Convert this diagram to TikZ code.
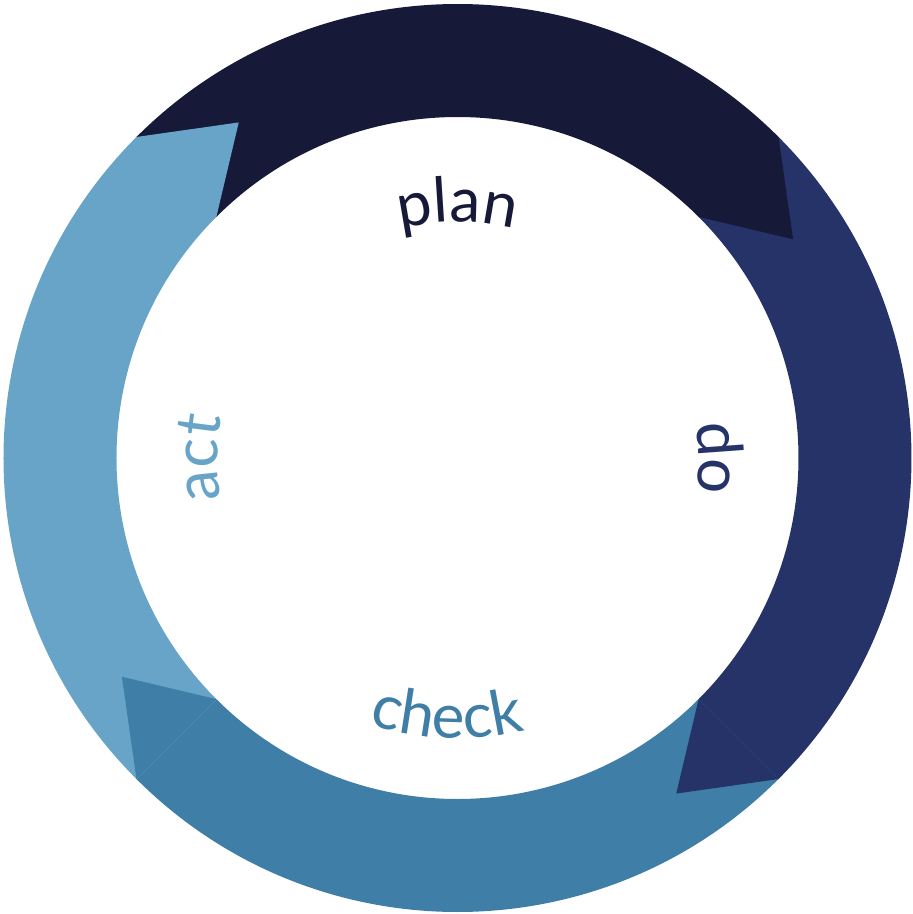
\documentclass[tikz,border=0pt]{standalone}
\usepackage{fontspec}
\setmainfont{Lato}
\usetikzlibrary{decorations.text}
\definecolor{cplan}{HTML}{161A38}
\definecolor{cdo}{HTML}{263369}
\definecolor{ccheck}{HTML}{3F7EA6}
\definecolor{cact}{HTML}{67A4C8}
\newcommand\pdcafont{\fontsize{62}{62}\selectfont}
\tikzset{
  band/.style={fill=#1,draw=none},
  lbl/.style 2 args={decorate,decoration={text along path,text align=center,text color=#1,text={|\pdcafont|#2}}}
}
\begin{document}
\begin{tikzpicture}[x=1pt,y=1pt]
\useasboundingbox (-457.5,-456) rectangle (455.5,458);
\def\Ro{454}
\def\Ri{341}
\def\Rt{400.6}
\coordinate (O) at (0,0);
% bands
\path[band=cplan] (135:\Ro) arc[start angle=135,end angle=45,radius=\Ro] -- (45:\Ri) arc[start angle=45,end angle=135,radius=\Ri] -- cycle;
\path[band=cdo] (45:\Ro) arc[start angle=45,end angle=-45,radius=\Ro] -- (-45:\Ri) arc[start angle=-45,end angle=45,radius=\Ri] -- cycle;
\path[band=ccheck] (-45:\Ro) arc[start angle=-45,end angle=-135,radius=\Ro] -- (-135:\Ri) arc[start angle=-135,end angle=-45,radius=\Ri] -- cycle;
\path[band=cact] (-135:\Ro) arc[start angle=-135,end angle=-225,radius=\Ro] -- (135:\Ri) arc[start angle=135,end angle=225,radius=\Ri] -- cycle;
% arrow heads
\path[band=cplan] (45:\Ro) -- (33.1:\Rt) -- (45:\Ri) -- cycle;
\path[band=cdo] (-45:\Ro) -- (-56.9:\Rt) -- (-45:\Ri) -- cycle;
\path[band=ccheck] (-135:\Ro) -- (-146.9:\Rt) -- (-135:\Ri) -- cycle;
\path[band=cact] (135:\Ro) -- (123.1:\Rt) -- (135:\Ri) -- cycle;
% labels
\path[lbl={cplan}{plan}] (120:236) arc[start angle=120,end angle=60,radius=236];
\path[lbl={cdo}{do}] (30:241) arc[start angle=30,end angle=-30,radius=241];
\path[lbl={cact}{act}] (210:240) arc[start angle=210,end angle=150,radius=240];
\path[lbl={ccheck}{check}] (-122.25:280) arc[start angle=-122.25,end angle=-62.25,radius=280];
\end{tikzpicture}
\end{document}
